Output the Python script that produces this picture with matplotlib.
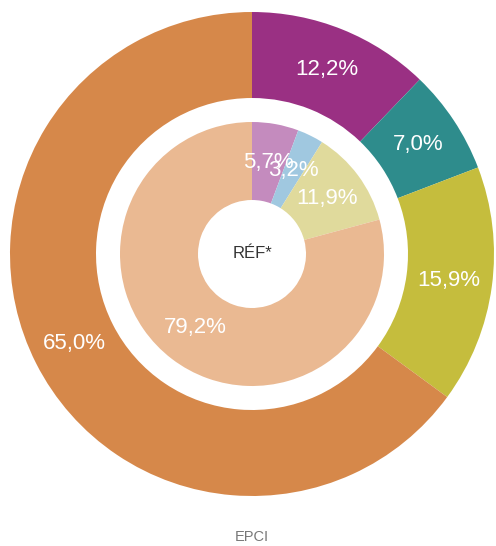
import matplotlib.pyplot as plt

# outer ring values (EPCI)
outer_values = [12.2, 7.0, 15.9, 65.0]
outer_colors = ['#9A3083', '#2E8C8C', '#C5BD3D', '#D6884A']

# inner pie values (RÉF*)
inner_values = [5.7, 3.2, 11.9, 79.2]
inner_colors = ['#C48BBE', '#A0C8E0', '#E0DA9C', '#EAB992']

center_label = 'RÉF*'
bottom_label = 'EPCI'


def fmt(v):
    return f'{v:.1f}%'.replace('.', ',')


W, H = 496, 546
fig = plt.figure(figsize=(W / 100, H / 100), dpi=100)
ax = fig.add_axes([0, 0, 1, 1])
ax.set_aspect('equal')
ax.axis('off')

cx, cy = 252, H - 254
r_out, r_ring_in = 242, 156
r_in, r_hole = 132, 54

txt = dict(color='white', fontsize=16, family='Liberation Sans')

ax.pie(outer_values, colors=outer_colors, startangle=90, counterclock=False,
       radius=r_out, center=(cx, cy), labels=[fmt(v) for v in outer_values],
       labeldistance=(r_out + r_ring_in) / 2 / r_out,
       wedgeprops=dict(width=r_out - r_ring_in, linewidth=0),
       textprops=dict(ha='center', va='center', **txt))

# inner labels overlap a little, same as the original
ax.pie(inner_values, colors=inner_colors, startangle=90, counterclock=False,
       radius=r_in, center=(cx, cy), labels=[fmt(v) for v in inner_values],
       labeldistance=(r_in + r_hole) / 2 / r_in,
       wedgeprops=dict(width=r_in - r_hole, linewidth=0),
       textprops=dict(ha='center', va='center', **txt))

ax.set_xlim(0, W)
ax.set_ylim(0, H)

ax.text(cx, cy, center_label, ha='center', va='center', fontsize=12,
        color='#333333', family='Liberation Sans')
ax.text(cx, H - 537, bottom_label, ha='center', va='center', fontsize=10.5,
        color='#777777', family='Liberation Sans')

fig.savefig('out.png', dpi=100)
